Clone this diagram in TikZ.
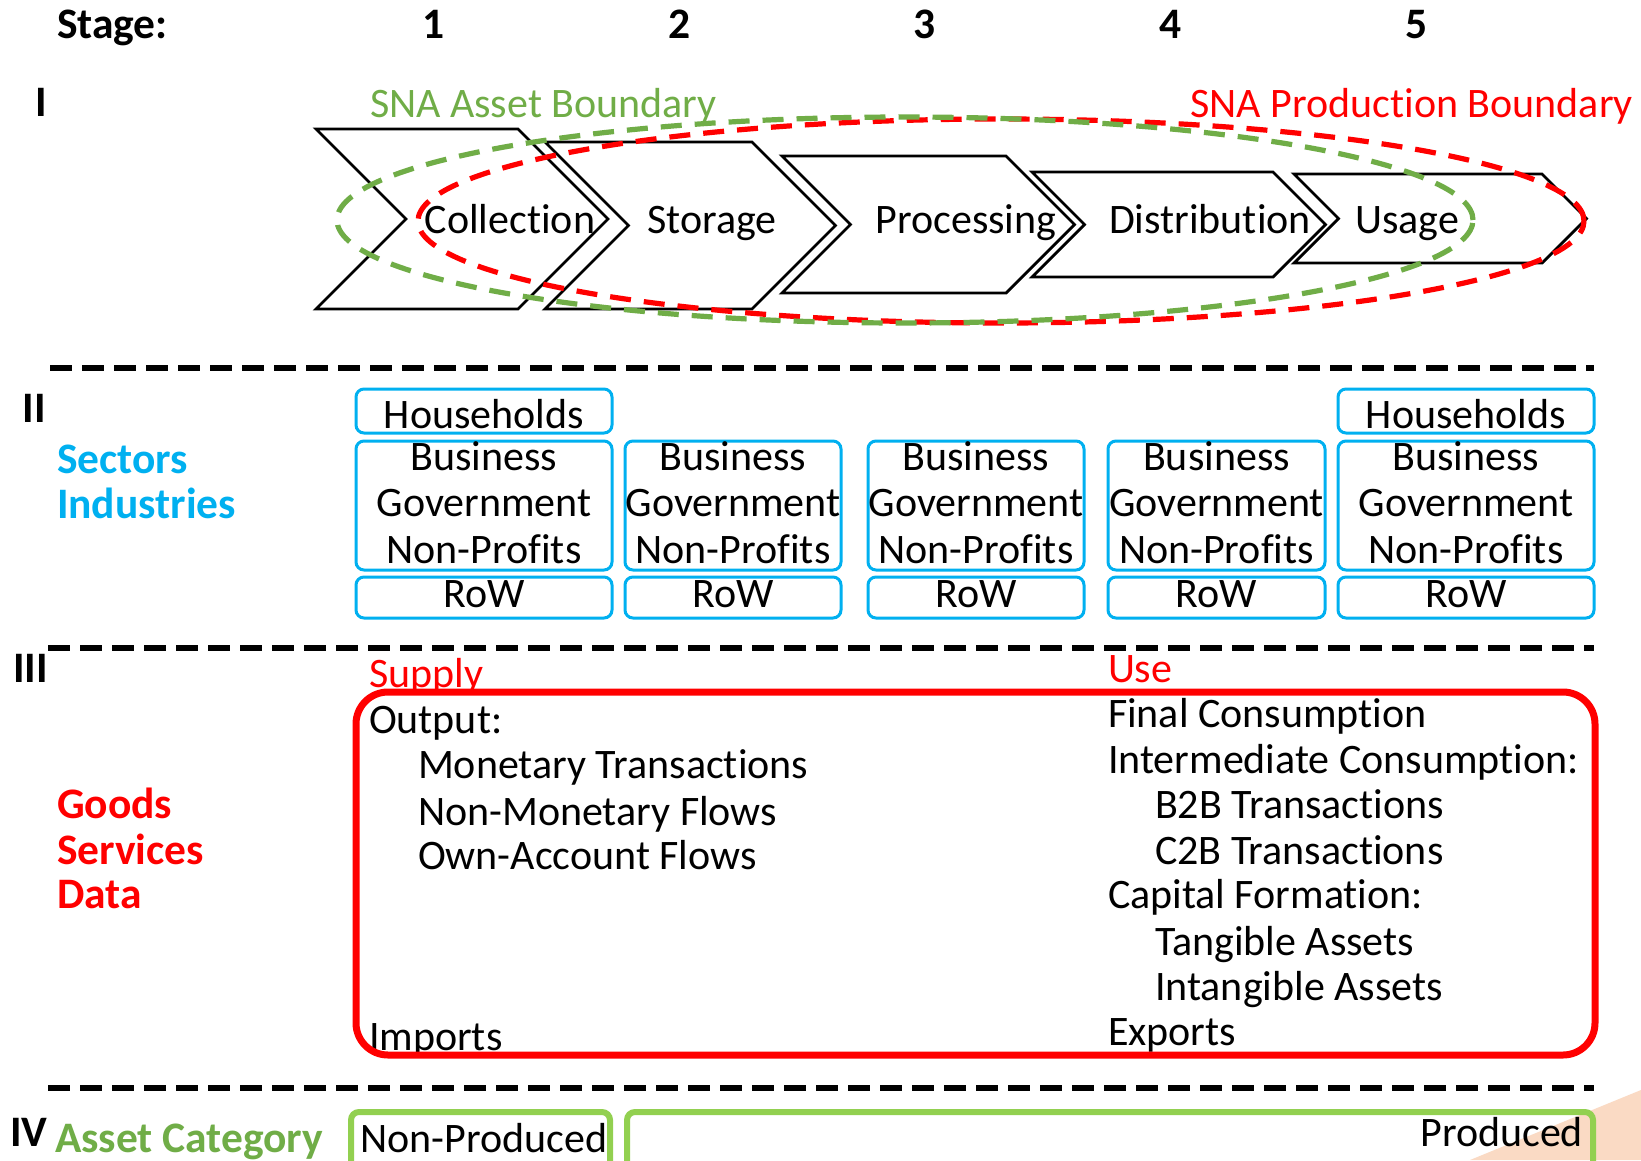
\documentclass[tikz,border=0pt]{standalone}
\usepackage{fontspec}
\setmainfont[Ligatures=NoCommon]{Carlito}
\definecolor{snagreen}{HTML}{70AD47}
\definecolor{snared}{HTML}{FF0000}
\definecolor{seccyan}{HTML}{00B0F0}
\definecolor{boxgreen}{HTML}{92D050}
\definecolor{peach}{RGB}{250,218,196}
\newcommand\txtsz{\fontsize{42}{46}\selectfont}
\newcommand\btxtsz{\fontsize{43.5}{46}\selectfont\bfseries}
\begin{document}
\begin{tikzpicture}[x=1pt,y=-1pt,
  txt/.style={inner sep=0pt, outer sep=0pt, font=\txtsz, anchor=base west},
  ctxt/.style={txt, anchor=base},
  btxt/.style={txt, font=\btxtsz},
  cbtxt/.style={btxt, anchor=base},
  chev/.style={draw=black, line width=2.8pt, fill=white, line join=miter},
  sbox/.style={draw=seccyan, line width=3pt, rounded corners=8pt, inner sep=0pt, outer sep=0pt},
  gbox/.style={draw=boxgreen, line width=6pt, rounded corners=8pt},
  sepline/.style={line width=6pt, dash pattern=on 22pt off 10pt},
  bdry/.style={line width=5.2pt, dash pattern=on 21pt off 13pt},
]
\useasboundingbox (0,0) rectangle (1641,1160);
\clip (0,0) rectangle (1641,1160);
\fill[white] (0,0) rectangle (1641,1160);

% ---------- header ----------
\node[btxt] (stage) at (57,38) {Stage:};
\node[cbtxt] (n1) at (434,38) {1};
\node[cbtxt] (n2) at (680,38) {2};
\node[cbtxt] (n3) at (925,38) {3};
\node[cbtxt] (n4) at (1171,38) {4};
\node[cbtxt] (n5) at (1417,38) {5};

% ---------- section I ----------
\node[btxt] (rI) at (35,116) {I};
\node[txt, text=snagreen] (assetb) at (370,117) {SNA Asset Boundary};
\node[txt, anchor=base east, text=snared] (prodb) at (1633,117) {SNA Production Boundary};

\draw[chev] (316,129) -- (518,129) -- (608,219) -- (518,309) -- (316,309) -- (406,219) -- cycle;
\draw[chev] (545,142) -- (752,142) -- (835.5,225.5) -- (752,309) -- (545,309) -- (628.5,225.5) -- cycle;
\draw[chev] (782,156) -- (1006,156) -- (1074.5,224.5) -- (1006,293) -- (782,293) -- (850.5,224.5) -- cycle;
\draw[chev] (1032,172) -- (1273,172) -- (1325.5,224.5) -- (1273,277) -- (1032,277) -- (1084.5,224.5) -- cycle;
\draw[chev] (1294,174) -- (1542,174) -- (1586.5,218.5) -- (1542,263) -- (1294,263) -- (1338.5,218.5) -- cycle;

\node[ctxt] (coll) at (510,233) {Collection};
\node[ctxt] (stor) at (712,233) {Storage};
\node[ctxt] (proc) at (966,233) {Processing};
\node[ctxt] (dist) at (1210,233) {Distribution};
\node[ctxt] (usage) at (1407,233) {Usage};

\draw[bdry, draw=snared] (1001,221) ellipse [x radius=583pt, y radius=102pt];
\draw[bdry, draw=snagreen] (905,220) ellipse [x radius=568pt, y radius=103pt];

% ---------- separators ----------
\draw[sepline] (50,368) -- (1594,368);
\draw[sepline] (48,648) -- (1594,648);
\draw[sepline] (48,1088) -- (1594,1088);

% ---------- section II ----------
\node[btxt] (rII) at (23,422) {II};
\node[btxt, text=seccyan] (sect) at (57,473) {Sectors};
\node[btxt, text=seccyan] (indu) at (57,518) {Industries};

\node[sbox, minimum width=256pt, minimum height=44pt] (hh1) at (484,411) {};
\node[sbox, minimum width=256pt, minimum height=44pt] (hh5) at (1466,411) {};
\node[ctxt] (hht1) at (484,428) {Households};
\node[ctxt] (hht5) at (1466,428) {Households};

\foreach \i/\cx/\w in {1/484/256, 2/733/216, 3/976/216, 4/1216.5/217, 5/1466/256}{
  \node[sbox, minimum width=\w pt, minimum height=129pt] (bb\i) at (\cx,505.5) {};
  \node[sbox, minimum width=\w pt, minimum height=41pt] (rb\i) at (\cx,597.5) {};
  \node[ctxt] (bus\i) at (\cx,470) {Business};
  \node[ctxt] (gov\i) at (\cx,516) {Government};
  \node[ctxt] (npr\i) at (\cx,563) {Non-Profits};
  \node[ctxt] (row\i) at (\cx,607) {RoW};
}

% ---------- section III ----------
\node[btxt] (rIII) at (13,682) {III};
\node[btxt, text=snared] (goods) at (57,818) {Goods};
\node[btxt, text=snared] (serv) at (57,864) {Services};
\node[btxt, text=snared] (data) at (57,908) {Data};

\node[txt, text=snared] (supply) at (369,687) {Supply};
\node[txt, text=snared] (use) at (1108,682) {Use};

\fill[white, rounded corners=32pt] (356,692) rectangle (1595,1055);

\node[txt] (outp) at (369,733) {Output:};
\node[txt] (mon) at (418,778) {Monetary Transactions};
\node[txt] (nmon) at (418,825) {Non-Monetary Flows};
\node[txt] (own) at (418,869) {Own-Account Flows};
\node[txt] (imp) at (369,1050) {Imports};

\node[txt] (finc) at (1108,727) {Final Consumption};
\node[txt] (intc) at (1108,773) {Intermediate Consumption:};
\node[txt] (b2b) at (1155,818) {B2B Transactions};
\node[txt] (c2b) at (1155,864) {C2B Transactions};
\node[txt] (capf) at (1108,908) {Capital Formation:};
\node[txt] (tang) at (1155,955) {Tangible Assets};
\node[txt] (intg) at (1155,1000) {Intangible Assets};
\node[txt] (expo) at (1108,1045) {Exports};

\draw[draw=snared, line width=7pt, rounded corners=32pt] (356,692) rectangle (1595,1055);

% ---------- section IV ----------
\fill[peach] (1470,1160) -- (1641,1090) -- (1641,1160) -- cycle;
\node[btxt] (rIV) at (10,1146) {IV};
\node[btxt, text=snagreen] (assetc) at (55,1152) {Asset Category};
\draw[gbox] (351,1112) rectangle (610,1180);
\draw[gbox] (627,1112) rectangle (1593,1180);
\node[ctxt] (nonp) at (484,1152) {Non-Produced};
\node[txt, anchor=base east] (prod) at (1583,1146) {Produced};
\end{tikzpicture}
\end{document}
